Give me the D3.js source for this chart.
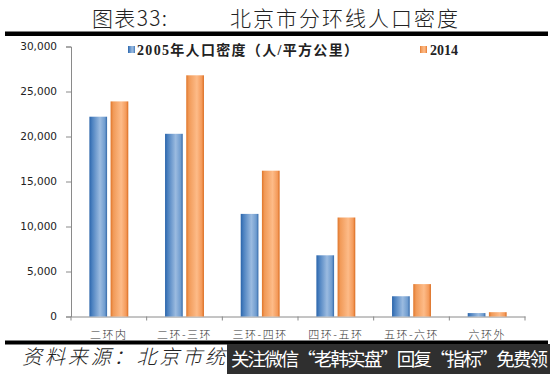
<!DOCTYPE html>
<html><head><meta charset="utf-8">
<script src="https://cdn.jsdelivr.net/npm/d3@7"></script>
<style>html,body{margin:0;padding:0;background:#fff;}svg{display:block;}</style>
</head><body>
<svg id="c" width="550" height="374"></svg>
<script>
const categories = ["二环内","二环-三环","三环-四环","四环-五环","五环-六环","六环外"];
const values2005 = [22200, 20300, 11400, 6800, 2250, 380];
const values2014 = [23900, 26800, 16200, 11000, 3600, 480];
const seriesNames = ["2005年人口密度（人/平方公里）","2014"];
const yTicks = [0,5000,10000,15000,20000,25000,30000];

const svg = d3.select("#c");
const defs = svg.append("defs");
function grad(id, stops){
  const g = defs.append("linearGradient").attr("id",id).attr("x1","0%").attr("x2","100%").attr("y1","0%").attr("y2","0%");
  stops.forEach(s=>g.append("stop").attr("offset",s[0]).attr("stop-color",s[1]));
}
grad("gb",[["0%","#2a64aa"],["15%","#4a80bf"],["60%","#9bbbe0"],["88%","#6f9ccf"],["100%","#3368a8"]]);
grad("go",[["0%","#e0762a"],["15%","#f19a58"],["60%","#fdbb88"],["88%","#f49a5a"],["100%","#d96b1f"]]);

// Title
svg.append("text").attr("x",92).attr("y",26).attr("font-family","'Noto Sans CJK SC'").attr("font-weight",300)
  .attr("font-size",21).attr("fill","#222").attr("textLength",75).attr("lengthAdjust","spacing").text("图表33:");
svg.append("text").attr("x",230).attr("y",26).attr("font-family","'Noto Sans CJK SC'").attr("font-weight",300)
  .attr("font-size",21).attr("fill","#222").attr("textLength",228).attr("lengthAdjust","spacing").text("北京市分环线人口密度");
svg.append("rect").attr("x",5).attr("y",31.5).attr("width",543).attr("height",4.5).attr("fill","#000");

// Scales
const x = d3.scaleBand().domain(categories).range([71,525]).paddingInner(0).paddingOuter(0);
const y = d3.scaleLinear().domain([0,30000]).range([316.5,46.5]);
const barW = 17.7, gap = 3.5;

// Axes
const yAxis = d3.axisLeft(y).tickValues(yTicks).tickSize(5).tickPadding(9).tickFormat(d3.format(","));
const gy = svg.append("g").attr("transform","translate(71,0)").call(yAxis);
gy.select(".domain").attr("stroke","#8a8a8a");
gy.selectAll(".tick line").attr("stroke","#8a8a8a");
gy.selectAll(".tick text").attr("font-family","'DejaVu Sans'").attr("font-size",10.5).attr("fill","#222");

const xAxis = d3.axisBottom(x).tickSize(0).tickFormat("");
const gx = svg.append("g").attr("transform","translate(0,316.5)").call(xAxis);
gx.select(".domain").attr("stroke","#8a8a8a");
gx.selectAll(".tick").remove();
// category boundary ticks
const bounds = categories.map(c=>x(c)).concat([x.range()[1]]);
svg.append("g").selectAll("line").data(bounds).join("line")
  .attr("x1",d=>d).attr("x2",d=>d).attr("y1",316.5).attr("y2",320.5).attr("stroke","#8a8a8a");

// Bars
const groups = svg.append("g");
categories.forEach((c,i)=>{
  const cx = x(c)+x.bandwidth()/2;
  groups.append("rect").attr("x",cx-gap/2-barW).attr("width",barW)
    .attr("y",y(values2005[i])).attr("height",y(0)-y(values2005[i])).attr("fill","url(#gb)");
  groups.append("rect").attr("x",cx+gap/2).attr("width",barW)
    .attr("y",y(values2014[i])).attr("height",y(0)-y(values2014[i])).attr("fill","url(#go)");
});

// Category labels
svg.append("g").selectAll("text").data(categories).join("text")
  .attr("x",d=>x(d)+x.bandwidth()/2).attr("y",339).attr("text-anchor","middle")
  .attr("font-family","'Noto Sans CJK SC'").attr("font-weight",300).attr("font-size",11).attr("letter-spacing",1.5)
  .attr("fill","#333").text(d=>d);

// Legend
svg.append("rect").attr("x",128).attr("y",46).attr("width",7).attr("height",7).attr("fill","url(#gb)");
svg.append("text").attr("x",137).attr("y",55).attr("font-family","'Liberation Serif','Noto Sans CJK SC'")
  .attr("font-weight","bold").attr("font-size",14).attr("fill","#222")
  .attr("textLength",221).attr("lengthAdjust","spacing").text(seriesNames[0]);
svg.append("rect").attr("x",420).attr("y",46).attr("width",7).attr("height",7).attr("fill","url(#go)");
svg.append("text").attr("x",430).attr("y",55).attr("font-family","'Liberation Serif'")
  .attr("font-weight","bold").attr("font-size",14).attr("fill","#222").text(seriesNames[1]);

// Bottom rule and source
svg.append("rect").attr("x",5).attr("y",340.5).attr("width",543).attr("height",4).attr("fill","#000");
svg.append("text").attr("x",22).attr("y",364).attr("font-family","'Noto Sans CJK SC'").attr("font-weight",300)
  .attr("font-style","italic").attr("font-size",20).attr("fill","#222")
  .attr("textLength",203).attr("lengthAdjust","spacing").text("资料来源：北京市统");

// Watermark overlay
svg.append("rect").attr("x",227).attr("y",344).attr("width",323).attr("height",30).attr("fill","#2f2f2f");
svg.append("text").attr("x",231).attr("y",366).attr("font-family","'Noto Sans CJK SC'")
  .attr("font-size",18.5).attr("fill","#fff")
  .attr("textLength",317).attr("lengthAdjust","spacing").text("关注微信“老韩实盘”回复“指标”免费领");
</script>
</body></html>
